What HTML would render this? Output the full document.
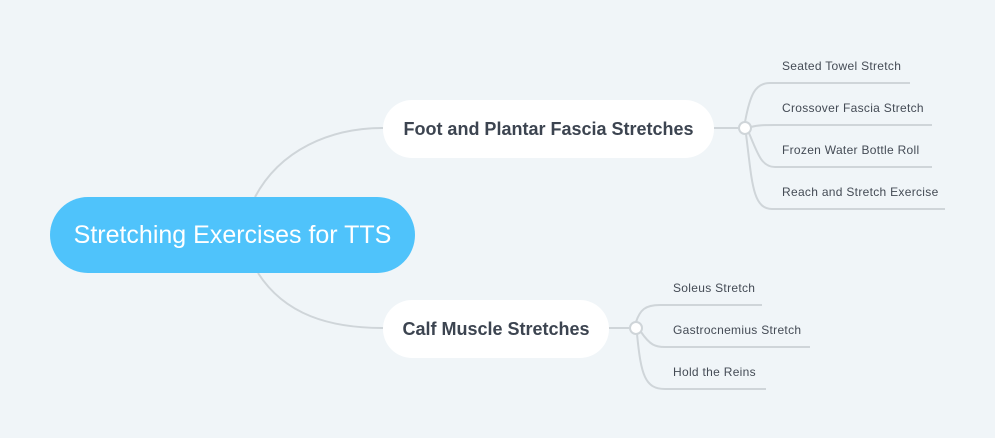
<!DOCTYPE html>
<html><head><style>
body{margin:0;width:995px;height:438px;background:#f0f5f8;position:relative;overflow:hidden;font-family:"Liberation Sans",sans-serif}
.n{position:absolute;display:flex;align-items:center;justify-content:center;box-sizing:border-box}
.c{left:50px;top:197px;width:365px;height:76px;border-radius:38px;background:#4fc3fb;color:#fff;font-size:25px}
.b{background:#fff;border-radius:29px;color:#3c4450;font-weight:bold;font-size:18px;height:58px}
.l{position:absolute;font-size:12px;color:#444b55;letter-spacing:0.3px}
</style></head><body>
<svg width="995" height="438" style="position:absolute;left:0;top:0" fill="none" stroke="#cfd5d9" stroke-width="2">
<path d="M255 197 C280 150 330 128 383 128"/>
<path d="M258 273 C285 315 330 328 383 328"/>
<path d="M714 128 H739"/>
<path d="M745 122 C750 95 755 83 770 83 H910"/>
<path d="M751 127 C758 125 765 125 775 125 H932"/>
<path d="M749 133 C758 155 762 167 775 167 H932"/>
<path d="M746 134 C752 180 752 209 772 209 H945"/>
<circle cx="745" cy="128" r="6" fill="#fff"/>
<path d="M609 328 H630"/>
<path d="M636 322 C640 310 645 305 660 305 H762"/>
<path d="M641 332 C650 345 655 347 665 347 H810"/>
<path d="M637 334 C641 375 645 389 665 389 H766"/>
<circle cx="636" cy="328" r="6" fill="#fff"/>
</svg>
<div class="n c">Stretching Exercises for TTS</div>
<div class="n b" style="left:383px;top:100px;width:331px">Foot and Plantar Fascia Stretches</div>
<div class="n b" style="left:383px;top:300px;width:226px">Calf Muscle Stretches</div>
<div class="l" style="left:782px;top:59px">Seated Towel Stretch</div>
<div class="l" style="left:782px;top:101px">Crossover Fascia Stretch</div>
<div class="l" style="left:782px;top:143px">Frozen Water Bottle Roll</div>
<div class="l" style="left:782px;top:185px">Reach and Stretch Exercise</div>
<div class="l" style="left:673px;top:281px">Soleus Stretch</div>
<div class="l" style="left:673px;top:323px">Gastrocnemius Stretch</div>
<div class="l" style="left:673px;top:365px">Hold the Reins</div>
</body></html>
